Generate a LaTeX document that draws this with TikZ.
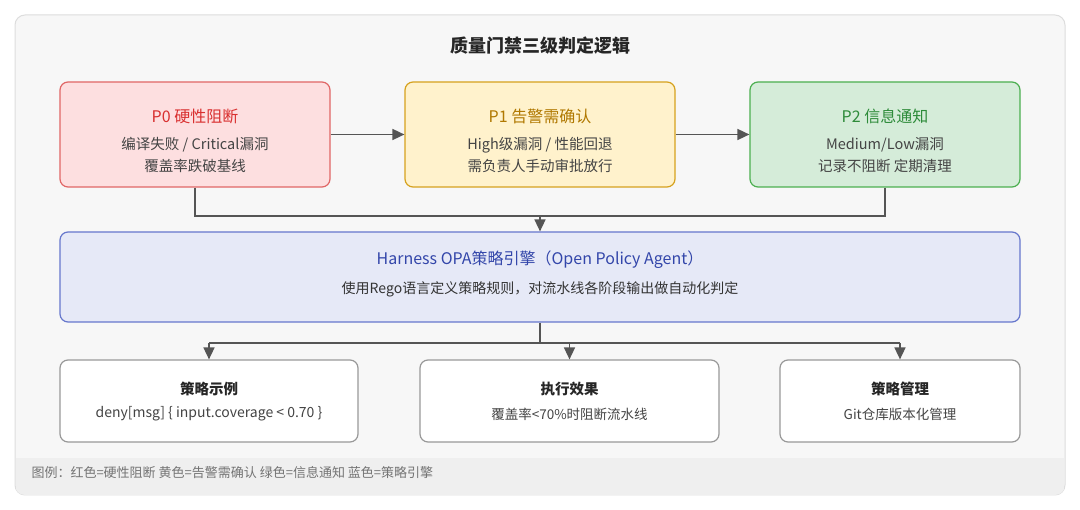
\documentclass[tikz,border=0pt]{standalone}
\usepackage{fontspec}
\setmainfont{Noto Sans CJK SC}
\usetikzlibrary{arrows.meta}
\definecolor{frame}{HTML}{DDDDDD}
\definecolor{bgc}{HTML}{F7F7F7}
\definecolor{legbg}{HTML}{EFEFEF}
\definecolor{rfill}{HTML}{FDDFE0}\definecolor{rdraw}{HTML}{E06666}\definecolor{rtext}{HTML}{D93030}
\definecolor{yfill}{HTML}{FFF2CC}\definecolor{ydraw}{HTML}{D6A21E}\definecolor{ytext}{HTML}{B07800}
\definecolor{gfill}{HTML}{D5ECD9}\definecolor{gdraw}{HTML}{4CAF50}\definecolor{gtext}{HTML}{2E8B3A}
\definecolor{bfill}{HTML}{E6E9F7}\definecolor{bdraw}{HTML}{6677CC}\definecolor{btext}{HTML}{3346AA}
\definecolor{line}{HTML}{555555}
\definecolor{txt}{HTML}{444444}
\begin{document}
\begin{tikzpicture}[x=1pt,y=-1pt,
  box/.style={rounded corners=8pt,line width=1.2pt},
  conn/.style={draw=line,line width=1.6pt,-{Triangle[length=12pt,width=11pt]}},
  plain/.style={draw=line,line width=1.6pt},
  ttl/.style={font=\fontsize{16}{18}\selectfont},
  sub/.style={font=\fontsize{14.5}{22}\selectfont,text=txt,align=center}]
\useasboundingbox (0,0) rectangle (1080,510);
\fill[white] (0,0) rectangle (1080,510);
\draw[frame,fill=bgc,rounded corners=10pt,line width=1pt] (15,15) rectangle (1065,495);
\begin{scope}
\clip[rounded corners=10pt] (15,15) rectangle (1065,495);
\fill[legbg] (16,458) rectangle (1064,495);
\end{scope}
\node[font=\fontsize{18}{20}\selectfont\bfseries,text=black!85] (title) at (540,46) {质量门禁三级判定逻辑};
\node[box,draw=rdraw,fill=rfill,minimum width=270pt,minimum height=105pt] (p0) at (195,134.5) {};
\node[box,draw=ydraw,fill=yfill,minimum width=270pt,minimum height=105pt] (p1) at (540,134.5) {};
\node[box,draw=gdraw,fill=gfill,minimum width=270pt,minimum height=105pt] (p2) at (885,134.5) {};
\node[ttl,text=rtext] at (195,116) {P0 硬性阻断};
\node[sub] at (195,155) {编译失败 / Critical漏洞\\覆盖率跌破基线};
\node[ttl,text=ytext] at (540,116) {P1 告警需确认};
\node[sub] at (540,155) {High级漏洞 / 性能回退\\需负责人手动审批放行};
\node[ttl,text=gtext] at (885,116) {P2 信息通知};
\node[sub] at (885,155) {Medium/Low漏洞\\记录不阻断 定期清理};
\draw[conn] (p0.east) -- (p1.west);
\draw[conn] (p1.east) -- (p2.west);
\node[box,draw=bdraw,fill=bfill,minimum width=960pt,minimum height=90pt] (opa) at (540,277) {};
\node[ttl,text=btext] at (540,260) {Harness OPA策略引擎（Open Policy Agent）};
\node[font=\fontsize{14}{16}\selectfont,text=black!80] at (540,289) {使用Rego语言定义策略规则，对流水线各阶段输出做自动化判定};
\coordinate (m) at (540,216);
\draw[plain] (p0.south) |- (m);
\draw[plain] (p2.south) |- (m);
\draw[conn] (m) -- (opa.north);
\node[box,draw=black!40,fill=white,minimum width=298pt,minimum height=82pt] (b1) at (209,401) {};
\node[box,draw=black!40,fill=white,minimum width=299pt,minimum height=82pt] (b2) at (569.5,401) {};
\node[box,draw=black!40,fill=white,minimum width=240pt,minimum height=82pt] (b3) at (900,401) {};
\coordinate (s) at (540,343);
\coordinate (sl) at (209,343);
\coordinate (sm) at (569.5,343);
\coordinate (sr) at (900,343);
\draw[plain] (opa.south) -- (s);
\draw[plain] (sl) -- (sr);
\draw[conn] (sl) -- (b1.north);
\draw[conn] (sm) -- (b2.north);
\draw[conn] (sr) -- (b3.north);
\node[font=\fontsize{14.5}{16}\selectfont\bfseries,text=black!85] at (209,389) {策略示例};
\node[font=\fontsize{14}{16}\selectfont,text=txt] at (209,414) {deny[msg] \{ input.coverage < 0.70 \}};
\node[font=\fontsize{14.5}{16}\selectfont\bfseries,text=black!85] at (569.5,389) {执行效果};
\node[font=\fontsize{13.5}{16}\selectfont,text=txt] at (569.5,414) {覆盖率<70\%时阻断流水线};
\node[font=\fontsize{14.5}{16}\selectfont\bfseries,text=black!85] at (900,389) {策略管理};
\node[font=\fontsize{13.5}{16}\selectfont,text=txt] at (900,414) {Git仓库版本化管理};
\node[anchor=west,font=\fontsize{13}{15}\selectfont,text=black!55] (leg) at (28,473) {图例：红色=硬性阻断 黄色=告警需确认 绿色=信息通知 蓝色=策略引擎};
\end{tikzpicture}
\end{document}
